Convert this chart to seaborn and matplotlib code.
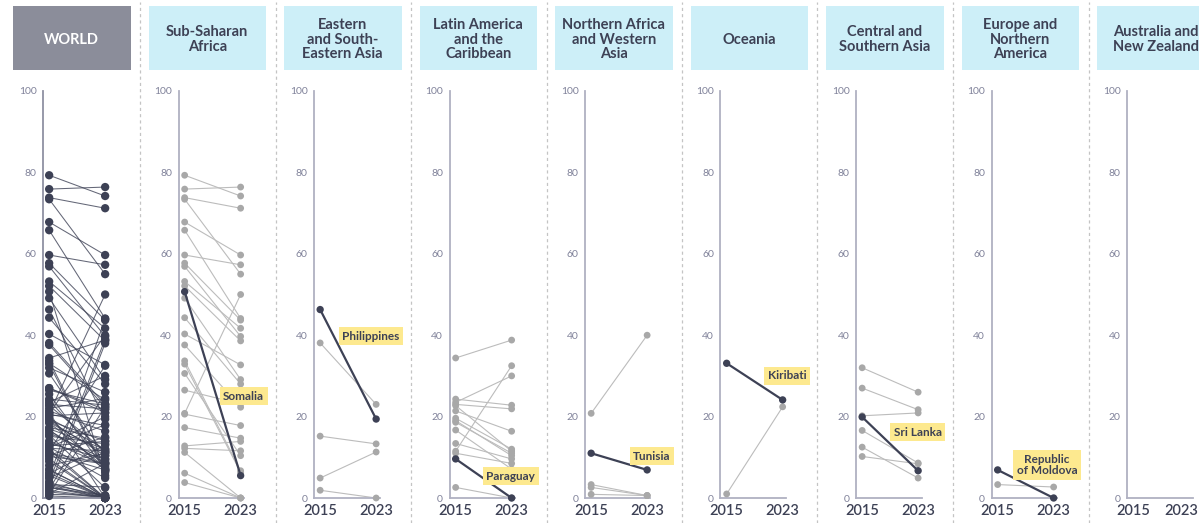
import matplotlib.pyplot as plt
import matplotlib.transforms as mtransforms
import seaborn as sns
import pandas as pd
from matplotlib.patches import Rectangle
from matplotlib.lines import Line2D

sns.set_theme(style="white")
plt.rcParams['font.family'] = ['Lato', 'DejaVu Sans']

# data: values (2015 -> 2023)
years = [2015, 2023]

ssa_2015 = [79.3, 75.9, 73.8, 73.4, 67.8, 65.8, 59.7, 57.7, 56.9, 53.2, 52.1, 50.7, 49.1, 44.3,
            40.3, 37.6, 33.7, 32.9, 30.6, 26.5, 20.8, 20.6, 17.3, 12.8, 12.2, 11.2, 6.1, 3.8]
ssa_2023 = [74.2, 76.4, 71.2, 55.0, 59.7, 44.1, 57.3, 43.7, 39.7, 41.7, 38.6, 5.5, 29.1, 28.0,
            32.7, 22.3, 6.7, 6.3, 10.4, 23.1, 50.0, 17.8, 14.7, 13.9, 11.6, 0.0, 0.0, 0.0]

ea_2015 = [46.3, 38.1, 15.2, 4.9, 1.9]
ea_2023 = [19.4, 23.0, 13.3, 11.3, 0.0]

la_2015 = [34.4, 24.3, 23.5, 23.0, 22.7, 21.4, 19.6, 19.0, 18.6, 16.7, 13.4, 11.5, 11.0, 9.6, 2.6]
la_2023 = [38.8, 22.8, 30.0, 21.9, 11.5, 16.4, 12.0, 10.4, 11.0, 7.1, 9.6, 32.5, 8.5, 0.0, 0.0]

naf_2015 = [20.8, 11.0, 3.3, 2.6, 0.9]
naf_2023 = [40.0, 6.9, 0.6, 0.6, 0.6]

oce_2015 = [33.1, 1.0]
oce_2023 = [24.1, 22.4]

csa_2015 = [32.0, 27.0, 20.2, 19.9, 16.6, 12.5, 10.2]
csa_2023 = [26.0, 21.7, 20.9, 6.7, 8.6, 4.9, 8.4]

eur_2015 = [6.9, 3.3]
eur_2023 = [0.0, 2.7]

anz_2015 = []
anz_2023 = []

# countries only shown in the world panel
other_2015 = [27.0, 24.0, 22.0, 18.5, 17.0, 15.5, 14.0, 12.0, 10.5, 9.0, 8.0, 7.0, 6.0, 5.0, 4.0,
              3.0, 2.0, 1.5, 1.0, 0.5, 2.5, 13.0, 16.0, 21.0, 25.5, 19.0, 5.5, 12.5]
other_2023 = [21.0, 9.0, 24.5, 7.5, 12.0, 2.5, 8.0, 0.0, 15.0, 0.0, 11.0, 0.0, 13.0, 44.0, 39.0,
              0.0, 26.0, 0.0, 8.5, 0.0, 38.0, 20.0, 9.5, 0.0, 7.0, 14.0, 0.0, 18.0]

region_titles = ["Sub-Saharan\nAfrica", "Eastern\nand South-\nEastern Asia",
                 "Latin America\nand the\nCaribbean", "Northern Africa\nand Western\nAsia",
                 "Oceania", "Central and\nSouthern Asia", "Europe and\nNorthern\nAmerica",
                 "Australia and\nNew Zealand"]
region_data = [(ssa_2015, ssa_2023), (ea_2015, ea_2023), (la_2015, la_2023), (naf_2015, naf_2023),
               (oce_2015, oce_2023), (csa_2015, csa_2023), (eur_2015, eur_2023), (anz_2015, anz_2023)]
# highlighted country per region: (index in the lists, label)
highlights = [(11, "Somalia"), (0, "Philippines"), (13, "Paraguay"), (1, "Tunisia"),
              (0, "Kiribati"), (3, "Sri Lanka"), (0, "Republic\nof Moldova"), None]
# label placement (y in data units)
label_y = [25, 39.8, 5.4, 10.3, 30, 16.2, 8.1, None]

DARK = "#3d4155"
GRAY_DOT = "#a8a8a8"
GRAY_LINE = "#bcbcbc"
AXIS = "#b0b1c2"
TICK = "#8e90a3"


def long_df(v15, v23):
    n = len(v15)
    df = pd.DataFrame({"country": list(range(n)) * 2,
                       "year": [years[0]] * n + [years[1]] * n,
                       "value": list(v15) + list(v23)})
    df["pos"] = df["year"].map({years[0]: 0, years[1]: 1})
    return df


W, H = 1199, 523
fig = plt.figure(figsize=(W / 100, H / 100), dpi=100)

pitch = 135.5
titles = ["WORLD"] + region_titles

# header boxes
for k, t in enumerate(titles):
    x0 = 13 + pitch * k
    world = k == 0
    fig.patches.append(Rectangle((x0 / W, 1 - 70 / H), 117.5 / W, 64 / H, transform=fig.transFigure,
                                 facecolor="#8b8d9a" if world else "#cdeff8", edgecolor="none", zorder=0))
    fig.text((x0 + 58.7) / W, 1 - 39.5 / H, t, ha="center", va="center", fontsize=10.5,
             fontweight="bold", color="white" if world else DARK, linespacing=1.05)

# dashed separators
for k in range(1, 9):
    x = (140 + pitch * (k - 1)) / W
    fig.add_artist(Line2D([x, x], [0, 1 - 2 / H], transform=fig.transFigure,
                          color="#c4c4c4", lw=0.9, ls=(0, (2.5, 2.5))))


def style_axis(ax, world=False):
    ax.set_xlim(-0.11, 1.06)
    ax.set_ylim(0, 100)
    ax.set_xticks([0, 1])
    ax.set_xticklabels([str(y) for y in years])
    ax.set_yticks([0, 20, 40, 60, 80, 100])
    ax.set_xlabel("")
    ax.set_ylabel("")
    for s in ["top", "right"]:
        ax.spines[s].set_visible(False)
    for s in ["left", "bottom"]:
        ax.spines[s].set_color("#8f91a3" if world else AXIS)
        ax.spines[s].set_linewidth(1.3)
    ax.tick_params(axis="y", direction="inout", length=3.2, width=3.2, color=TICK,
                   labelsize=7.5, labelcolor="#80829a", pad=3)
    ax.tick_params(axis="x", length=0, labelsize=10.5, labelcolor=DARK, pad=4)
    for lab in ax.get_xticklabels():
        lab.set_fontweight("semibold")
    ax.set_facecolor("none")


for k in range(9):
    spine = 43 + pitch * k
    ax = fig.add_axes([spine / W, 1 - 498 / H, 65.5 / W, 407 / H])

    if k == 0:
        all15 = sum([d[0] for d in region_data], []) + other_2015
        all23 = sum([d[1] for d in region_data], []) + other_2023
        df = long_df(all15, all23)
        sns.lineplot(data=df, x="pos", y="value", units="country", estimator=None, color=DARK,
                     lw=0.75, alpha=0.8, ax=ax, legend=False, clip_on=False)
        sns.scatterplot(data=df, x="pos", y="value", color=DARK, s=36, edgecolor="none",
                        ax=ax, legend=False, clip_on=False, zorder=3)
    else:
        v15, v23 = region_data[k - 1]
        if len(v15):
            df = long_df(v15, v23)
            hl = highlights[k - 1]
            rest = df[df["country"] != hl[0]]
            top = df[df["country"] == hl[0]]
            sns.lineplot(data=rest, x="pos", y="value", units="country", estimator=None,
                         color=GRAY_LINE, lw=0.8, ax=ax, legend=False, clip_on=False)
            sns.scatterplot(data=rest, x="pos", y="value", color=GRAY_DOT, s=24, edgecolor="none",
                            ax=ax, legend=False, clip_on=False, zorder=3)
            sns.lineplot(data=top, x="pos", y="value", color=DARK, lw=1.6, ax=ax,
                         legend=False, clip_on=False, zorder=4)
            sns.scatterplot(data=top, x="pos", y="value", color=DARK, s=28, edgecolor="none",
                            ax=ax, legend=False, clip_on=False, zorder=5)
            ax.text(1.42, label_y[k - 1], hl[1], ha="right", va="center", multialignment="center",
                    fontsize=8.5, fontweight="bold", color=DARK, linespacing=1.0, clip_on=False,
                    zorder=6, bbox=dict(boxstyle="square,pad=0.3", fc="#fde98f", ec="none"))
    style_axis(ax, world=(k == 0))
    if k == 8:
        # last panel touches the right edge: nudge the 2023 label inwards
        lab = ax.get_xticklabels()[1]
        lab.set_transform(lab.get_transform() +
                          mtransforms.ScaledTranslation(-6 / 72, 0, fig.dpi_scale_trans))

fig.savefig("out.png", dpi=100)
